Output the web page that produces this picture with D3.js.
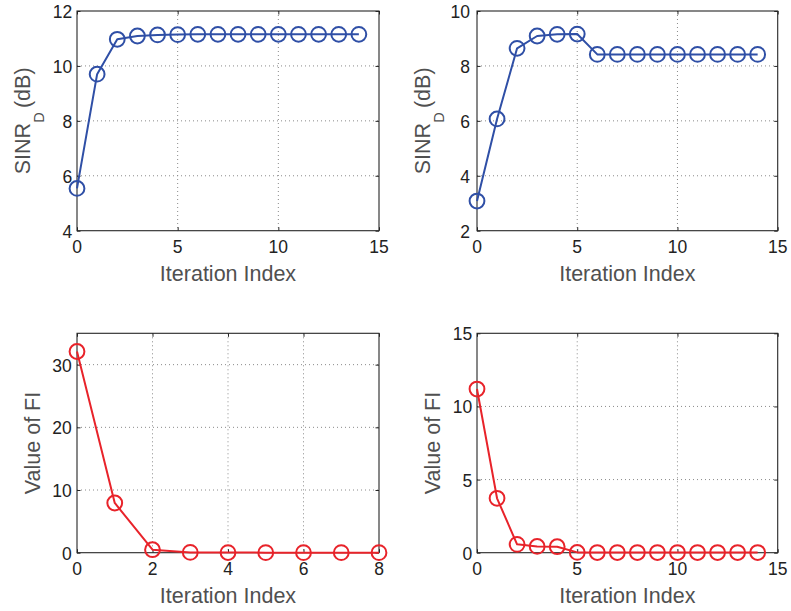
<!DOCTYPE html>
<html>
<head>
<meta charset="utf-8">
<script src="https://cdn.jsdelivr.net/npm/d3@7"></script>
<style>
  html, body { margin: 0; padding: 0; background: #fff; }
  svg { display: block; }
  text { font-family: "Liberation Sans", Arial, Helvetica, sans-serif; }
</style>
</head>
<body>
<svg id="fig" width="791" height="611"></svg>
<script>
// Iteration indices
const iterA = d3.range(0, 15);   // 0..14
const iterB = d3.range(0, 9);    // 0..8

// SINR_D (dB) per iteration, two scenarios
const sinrLeft  = [5.54, 9.70, 10.97, 11.09, 11.13, 11.14, 11.15, 11.15, 11.15, 11.15, 11.15, 11.15, 11.15, 11.15, 11.15];
const sinrRight = [3.08, 6.07, 8.64, 9.09, 9.15, 9.16, 8.42, 8.42, 8.42, 8.42, 8.42, 8.42, 8.42, 8.42, 8.42];

// Value of FI per iteration, two scenarios
const fiLeft  = [32.1, 7.93, 0.48, 0.05, 0.02, 0.01, 0.01, 0.01, 0.01];
const fiRight = [11.19, 3.72, 0.57, 0.43, 0.41, 0.02, 0.01, 0.01, 0.01, 0.01, 0.01, 0.01, 0.01, 0.01, 0.01];

// Axis tick values
const ticksX15 = [0, 5, 10, 15];
const ticksX8  = [0, 2, 4, 6, 8];
const ticksSinrL = [4, 6, 8, 10, 12];
const ticksSinrR = [2, 4, 6, 8, 10];
const ticksFiL = [0, 10, 20, 30];
const ticksFiR = [0, 5, 10, 15];

const BLUE = "#2f4fa6";
const RED = "#e8232a";

const panels = [
  { box: [77, 11, 379, 230.7], xDom: [0, 15], yDom: [4, 12], xTicks: ticksX15, yTicks: ticksSinrL,
    xs: iterA, ys: sinrLeft, color: BLUE, ylab: "sinr", ylabX: 29.5, tickGap: 4.8 },
  { box: [477, 11, 777.7, 230.7], xDom: [0, 15], yDom: [2, 10], xTicks: ticksX15, yTicks: ticksSinrR,
    xs: iterA, ys: sinrRight, color: BLUE, ylab: "sinr", ylabX: 429.5, tickGap: 7 },
  { box: [77, 333.3, 379, 552.7], xDom: [0, 8], yDom: [0, 35], xTicks: ticksX8, yTicks: ticksFiL,
    xs: iterB, ys: fiLeft, color: RED, ylab: "fi", ylabX: 40, tickGap: 5.3 },
  { box: [477, 333.3, 777.7, 552.7], xDom: [0, 15], yDom: [0, 15], xTicks: ticksX15, yTicks: ticksFiR,
    xs: iterA, ys: fiRight, color: RED, ylab: "fi", ylabX: 440, tickGap: 4.7 }
];

const svg = d3.select("#fig");
svg.append("rect").attr("width", 791).attr("height", 611).attr("fill", "#fff");

const TICK_FONT = 17.5;
const LABEL_FONT = 21.5;
const TICK_LEN = 3.5;

panels.forEach(p => {
  const [x0, y0, x1, y1] = p.box;
  const x = d3.scaleLinear().domain(p.xDom).range([x0, x1]);
  const y = d3.scaleLinear().domain(p.yDom).range([y1, y0]);
  const g = svg.append("g");

  // dotted grid
  const grid = g.append("g").attr("stroke", "#8a8a8a").attr("stroke-width", 1)
    .attr("stroke-dasharray", "1,3");
  p.xTicks.filter(t => t !== p.xDom[0] && t !== p.xDom[1]).forEach(t => {
    grid.append("line").attr("x1", x(t)).attr("x2", x(t)).attr("y1", y0).attr("y2", y1);
  });
  p.yTicks.filter(t => t !== p.yDom[0] && t !== p.yDom[1]).forEach(t => {
    grid.append("line").attr("x1", x0).attr("x2", x1).attr("y1", y(t)).attr("y2", y(t));
  });

  // axes via d3 axis generators (inward ticks on all four sides)
  const axB = d3.axisBottom(x).tickValues(p.xTicks).tickSizeInner(-TICK_LEN).tickSizeOuter(0).tickFormat("");
  const axT = d3.axisTop(x).tickValues(p.xTicks).tickSizeInner(-TICK_LEN).tickSizeOuter(0).tickFormat("");
  const axL = d3.axisLeft(y).tickValues(p.yTicks).tickSizeInner(-TICK_LEN).tickSizeOuter(0).tickFormat("");
  const axR = d3.axisRight(y).tickValues(p.yTicks).tickSizeInner(-TICK_LEN).tickSizeOuter(0).tickFormat("");
  [[axB, `translate(0,${y1})`], [axT, `translate(0,${y0})`], [axL, `translate(${x0},0)`], [axR, `translate(${x1},0)`]]
    .forEach(([ax, tr]) => {
      const a = g.append("g").attr("transform", tr).call(ax);
      a.selectAll("path").remove();
      a.selectAll("line").attr("stroke", "#262626").attr("stroke-width", 1);
    });

  // box
  g.append("rect").attr("x", x0).attr("y", y0).attr("width", x1 - x0).attr("height", y1 - y0)
    .attr("fill", "none").attr("stroke", "#262626").attr("stroke-width", 1.1);

  // tick labels
  p.xTicks.forEach(t => {
    g.append("text").attr("x", x(t)).attr("y", y1 + 22.6).attr("text-anchor", "middle")
      .attr("font-size", TICK_FONT).attr("fill", "#222").text(t);
  });
  p.yTicks.forEach(t => {
    g.append("text").attr("x", x0 - p.tickGap).attr("y", y(t) + 7).attr("text-anchor", "end")
      .attr("font-size", TICK_FONT).attr("fill", "#222").text(t);
  });

  // x label
  g.append("text").attr("x", (x0 + x1) / 2).attr("y", y1 + 49.8).attr("text-anchor", "middle")
    .attr("font-size", LABEL_FONT).attr("fill", "#505050").text("Iteration Index");

  // y label
  const yl = g.append("text")
    .attr("transform", `translate(${p.ylabX},${(y0 + y1) / 2}) rotate(-90)`)
    .attr("text-anchor", "middle").attr("font-size", LABEL_FONT).attr("fill", "#505050");
  if (p.ylab === "sinr") {
    yl.append("tspan").text("SINR");
    yl.append("tspan").attr("font-size", 14.5).attr("dy", 14).text("D");
    yl.append("tspan").attr("dy", -14).text("\u2009(dB)");
  } else {
    yl.text("Value of FI");
  }

  // series
  const pts = p.xs.map((v, i) => [v, p.ys[i]]);
  g.append("path").datum(pts)
    .attr("d", d3.line().x(d => x(d[0])).y(d => y(d[1])))
    .attr("fill", "none").attr("stroke", p.color).attr("stroke-width", 2).attr("stroke-linejoin", "round");
  g.append("g").selectAll("circle").data(pts).join("circle")
    .attr("cx", d => x(d[0])).attr("cy", d => y(d[1])).attr("r", 7.4)
    .attr("fill", "none").attr("stroke", p.color).attr("stroke-width", 2);
});
</script>
</body>
</html>
